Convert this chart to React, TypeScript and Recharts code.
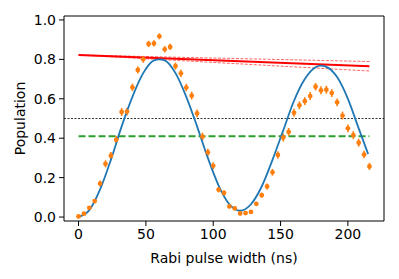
import { ComposedChart, Line, Scatter, ErrorBar, XAxis, YAxis, ReferenceLine } from 'recharts';

// measured populations, one shot every 4 ns
const pulseWidths = [
  0, 4, 8, 12, 16, 20, 24, 28, 32, 36, 40, 44, 48, 52, 56, 60, 64, 68, 72, 76,
  80, 84, 88, 92, 96, 100, 104, 108, 112, 116, 120, 124, 128, 132, 136, 140,
  144, 148, 152, 156, 160, 164, 168, 172, 176, 180, 184, 188, 192, 196, 200,
  204, 208, 212, 216,
];
const population = [
  0.003, 0.017, 0.047, 0.081, 0.17, 0.27, 0.311, 0.392, 0.533, 0.535, 0.658,
  0.746, 0.8, 0.878, 0.881, 0.917, 0.851, 0.863, 0.766, 0.729, 0.657, 0.616,
  0.526, 0.408, 0.328, 0.26, 0.139, 0.122, 0.054, 0.044, 0.018, 0.02, 0.026,
  0.067, 0.111, 0.155, 0.227, 0.315, 0.403, 0.432, 0.529, 0.567, 0.588, 0.614,
  0.661, 0.643, 0.646, 0.629, 0.582, 0.515, 0.45, 0.416, 0.377, 0.317, 0.257,
];
const populationErr = [
  0.004, 0.006, 0.009, 0.011, 0.015, 0.018, 0.019, 0.02, 0.02, 0.02, 0.019,
  0.018, 0.017, 0.016, 0.016, 0.015, 0.016, 0.016, 0.018, 0.018, 0.019, 0.02,
  0.02, 0.02, 0.019, 0.018, 0.014, 0.013, 0.009, 0.008, 0.005, 0.006, 0.007,
  0.01, 0.013, 0.015, 0.017, 0.019, 0.02, 0.02, 0.02, 0.02, 0.02, 0.02, 0.019,
  0.02, 0.02, 0.02, 0.02, 0.02, 0.02, 0.02, 0.02, 0.019, 0.018,
];

// fitted Rabi oscillation
const fitT = [
  0, 8, 16, 24, 32, 40, 48, 56, 60, 64, 72, 80, 88, 96, 104, 112, 120, 128,
  136, 144, 152, 160, 168, 176, 180, 184, 192, 200, 208, 215,
];
const fitY = [
  0.0, 0.035, 0.14, 0.29, 0.46, 0.61, 0.73, 0.795, 0.8, 0.795, 0.73, 0.61,
  0.46, 0.3, 0.16, 0.065, 0.032, 0.065, 0.155, 0.29, 0.44, 0.59, 0.7, 0.76,
  0.768, 0.762, 0.71, 0.6, 0.45, 0.32,
];

// envelope (decay) fit with its band
const envT = [0, 216];
const envY = [0.822, 0.765];
const envUpper = [0.822, 0.789];
const envLower = [0.822, 0.741];

const midT = [0, 216];
const midLevel = 0.41;
const halfLevel = 0.5;

const xTicks = [0, 50, 100, 150, 200];
const yTicks = [0, 0.2, 0.4, 0.6, 0.8, 1.0];

const points = pulseWidths.map((t, i) => ({ t, p: population[i], err: populationErr[i] }));
const fit = fitT.map((t, i) => ({ t, y: fitY[i] }));
const env = envT.map((t, i) => ({ t, y: envY[i], hi: envUpper[i], lo: envLower[i] }));
const mid = midT.map(t => ({ t, y: midLevel }));

const font = 'DejaVu Sans, sans-serif';
const xDomain = [-10.8, 226.8];
const yDomain = [-0.02, 1.02];

export default function App() {
  return (
    <div style={{ position: 'absolute', left: 0, top: 0, width: 399, height: 279, background: '#fff' }}>
      <ComposedChart width={399} height={279} margin={{ top: 16, right: 15, left: 0, bottom: 8 }}>
        <XAxis
          dataKey="t"
          type="number"
          domain={xDomain}
          ticks={xTicks}
          allowDataOverflow
          height={50}
          tickSize={5}
          tickMargin={3}
          stroke="#000"
          tick={{ fill: '#000', fontSize: 14, fontFamily: font }}
          label={{ value: 'Rabi pulse width (ns)', position: 'insideBottom', offset: 8, fill: '#000', fontSize: 14, fontFamily: font }}
        />
        <YAxis
          type="number"
          domain={yDomain}
          ticks={yTicks}
          allowDataOverflow
          width={64}
          tickSize={5}
          tickMargin={3}
          stroke="#000"
          tickFormatter={(v: number) => v.toFixed(1)}
          tick={{ fill: '#000', fontSize: 14, fontFamily: font }}
          label={{ value: 'Population', angle: -90, position: 'center', dx: -12, fill: '#000', fontSize: 14, fontFamily: font }}
        />

        {/* top and right spines */}
        <ReferenceLine y={yDomain[1]} stroke="#000" strokeWidth={1} ifOverflow="extendDomain" />
        <ReferenceLine x={xDomain[1]} stroke="#000" strokeWidth={1} ifOverflow="extendDomain" />

        <ReferenceLine y={halfLevel} stroke="#000" strokeWidth={0.8} strokeDasharray="2 1.5" />

        <Line data={env} dataKey="hi" type="linear" stroke="#ff0000" strokeOpacity={0.6} strokeWidth={1} strokeDasharray="3 1.5" dot={false} isAnimationActive={false} />
        <Line data={env} dataKey="lo" type="linear" stroke="#ff0000" strokeOpacity={0.6} strokeWidth={1} strokeDasharray="3 1.5" dot={false} isAnimationActive={false} />
        <Line data={env} dataKey="y" type="linear" stroke="#ff0000" strokeWidth={2} dot={false} isAnimationActive={false} />

        <Line data={mid} dataKey="y" type="linear" stroke="#2ca02c" strokeWidth={1.8} strokeDasharray="7 3" dot={false} isAnimationActive={false} />

        <Scatter
          data={points}
          dataKey="p"
          fill="#ff7f0e"
          isAnimationActive={false}
          shape={(props: any) => <circle cx={props.cx} cy={props.cy} r={2.4} fill="#ff7f0e" />}
        >
          <ErrorBar dataKey="err" direction="y" width={0} stroke="#ff7f0e" strokeWidth={1.6} />
        </Scatter>

        <Line data={fit} dataKey="y" type="monotone" stroke="#1f77b4" strokeWidth={1.8} dot={false} isAnimationActive={false} />
      </ComposedChart>
    </div>
  );
}
